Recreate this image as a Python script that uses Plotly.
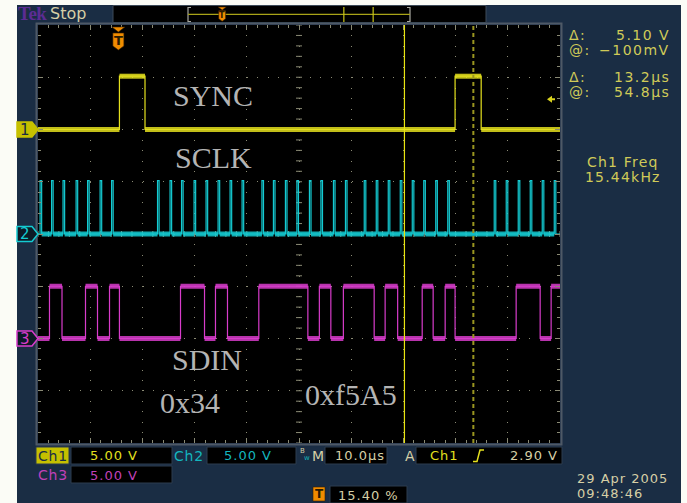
import plotly.graph_objects as go

# ---------------------------------------------------------------------------
# Acquisition data (time in microseconds relative to the trigger, levels in V)
# ---------------------------------------------------------------------------
sync_edges = [0.2, 5.1, 64.5, 69.5]                      # Ch1 SYNC, starts low
sync_levels = (0.0, 5.1)

sclk_pulses = [-15.0, -12.8, -10.6, -8.1, -5.9, -3.5, -1.3,
               7.5, 9.9, 12.1, 14.5, 16.8, 19.1, 21.4, 23.7,
               27.5, 29.7, 32.0, 34.2, 36.6, 38.8, 41.2, 43.5,
               47.1, 49.4, 51.7, 54.0, 56.3, 58.5, 60.8, 63.1,
               72.0, 74.3, 76.6, 78.9, 81.2, 83.5]          # Ch2 SCLK pulse starts
sclk_width = 0.3
sclk_levels = (0.0, 5.1)

sdin_edges = [-13.2, -10.8, -6.3, -4.0, -1.7, 0.2, 11.9, 16.5, 18.6, 20.9,
              26.9, 36.3, 38.5, 40.7, 43.1, 49.0, 51.1, 53.5, 58.2, 60.3,
              62.6, 64.5, 76.2, 80.8, 82.9]                  # Ch3 SDIN, starts low
sdin_levels = (0.0, 5.0)

channel_names = ["Ch1", "Ch2", "Ch3"]
volts_per_div = [5.0, 5.0, 5.0]
channel_offsets = [2.0, 0.0, -2.0]          # ground marker position, divisions
channel_colors = ["#e4e01e", "#14cbd2", "#d83ccb"]

time_per_div = 10.0
trigger_pos_pct = 15.40
trigger_level = 2.90
cursor_times = [54.8, 68.0]
cursor_dv = 5.10
cursor_at_v = -0.100
ch1_freq_khz = 15.44
timestamp = ["29 Apr 2005", "09:48:46"]

# annotation text placed on the graticule (time µs, divisions)
signal_labels = ["SYNC", "SCLK", "SDIN", "0x34", "0xf5A5"]
signal_label_pos = [(18.1, 2.66), (18.3, 1.455), (17.0, -2.41), (13.7, -3.23), (44.6, -3.08)]

# ---------------------------------------------------------------------------
# Screen geometry
# ---------------------------------------------------------------------------
W, H = 687, 503
ML, MR, MT, MB = 38, 127, 25, 60
PW, PH = W - ML - MR, H - MT - MB
t_start = -trigger_pos_pct / 100.0 * 10 * time_per_div
t_end = t_start + 10 * time_per_div

NAVY = "#1a2d44"
BEIGE = "#d6cfa6"
READ = "#d0ca58"
GRID = "#8a8a74"
ORANGE = "#f08c00"


def xp(px):
    return (px - ML) / PW


def yp(py):
    return (H - MB - py) / PH


def t2px(t):
    return ML + (t - t_start) / (t_end - t_start) * PW


def div2py(d):
    return MT + (4 - d) / 8 * PH


def poly(pts, close=True):
    s = "M " + " L ".join(f"{xp(x):.5f},{yp(y):.5f}" for x, y in pts)
    return s + (" Z" if close else "")


def step_wave(edges, levels):
    lo, hi = levels
    xs, ys = [t_start], [lo]
    level = lo
    for e in edges:
        nxt = hi if level == lo else lo
        xs += [e, e]
        ys += [level, nxt]
        level = nxt
    xs.append(t_end)
    ys.append(level)
    return xs, ys


def flat_segments(xs, ys, min_len=1.0):
    bx, by = [], []
    for i in range(0, len(xs) - 1, 2):
        x0, x1 = xs[i], xs[i + 1]
        if x1 - x0 >= min_len:
            bx += [x0, x1, None]
            by += [ys[i], ys[i + 1], None]
    return bx, by


sclk_edges = []
for p in sclk_pulses:
    sclk_edges += [p, p + sclk_width]

waves = [step_wave(sync_edges, sync_levels),
         step_wave(sclk_edges, sclk_levels),
         step_wave(sdin_edges, sdin_levels)]

fig = go.Figure()
for (xs, ys), off, vpd, col in zip(waves, channel_offsets, volts_per_div, channel_colors):
    yd = [v / vpd + off for v in ys]
    bx, by = flat_segments(xs, yd)
    fig.add_trace(go.Scatter(x=bx, y=by, mode="lines", line=dict(color=col, width=5),
                             opacity=0.85, hoverinfo="skip", connectgaps=False))
    fig.add_trace(go.Scatter(x=xs, y=yd, mode="lines", line=dict(color=col, width=1.2),
                             hoverinfo="skip"))

shapes = []
annotations = []

# white frame strips around the instrument screen
for x0, x1, y0, y1 in [(0, 17, 0, H), (0, W, 0, 5), (681, W, 0, H)]:
    shapes.append(dict(type="rect", xref="paper", yref="paper", x0=xp(x0), x1=xp(x1),
                       y0=yp(y1), y1=yp(y0), fillcolor="#fbfcf6", line=dict(width=0), layer="below"))

# graticule border
shapes.append(dict(type="rect", xref="paper", yref="paper", x0=xp(36.5), x1=xp(561.5),
                   y0=yp(444.5), y1=yp(23.5), line=dict(color="#4e5966", width=2), layer="below"))

# center-line minor ticks
t_center = (t_start + t_end) / 2
for k in range(41):
    yv = -4 + 0.2 * k
    shapes.append(dict(type="line", xref="x", yref="y", xsizemode="pixel", xanchor=t_center,
                       x0=-3, x1=3, y0=yv, y1=yv, line=dict(color=GRID, width=1), layer="below"))
for k in range(51):
    tv = t_start + k * time_per_div / 5
    shapes.append(dict(type="line", xref="x", yref="y", ysizemode="pixel", yanchor=0,
                       y0=-3, y1=3, x0=tv, x1=tv, line=dict(color=GRID, width=1), layer="below"))

# cursors
shapes.append(dict(type="line", xref="x", yref="paper", x0=cursor_times[0], x1=cursor_times[0],
                   y0=0, y1=1, line=dict(color="#e8e410", width=1.2)))
shapes.append(dict(type="line", xref="x", yref="paper", x0=cursor_times[1], x1=cursor_times[1],
                   y0=0, y1=1, line=dict(color="#9a9620", width=2, dash="4px,3px")))

# channel ground markers
for name, off, col in zip(channel_names, channel_offsets, channel_colors):
    c = div2py(off)
    pts = [(17, c - 7.5), (32, c - 7.5), (38, c), (32, c + 7.5), (17, c + 7.5)]
    selected = name == "Ch1"
    shapes.append(dict(type="path", xref="paper", yref="paper", path=poly(pts),
                       fillcolor="#c6c000" if selected else "#0c1a26",
                       line=dict(color="#c6c000" if selected else col, width=1.5)))
    annotations.append(dict(x=xp(24.5), y=yp(c), xref="paper", yref="paper", text=name[-1],
                            showarrow=False, font=dict(family="DejaVu Sans", size=15,
                                                       color=NAVY if selected else col),
                            xanchor="center", yanchor="middle"))

# trigger level arrow on right edge
ty = div2py(channel_offsets[0] + trigger_level / volts_per_div[0])
shapes.append(dict(type="path", xref="paper", yref="paper",
                   path=poly([(547, ty), (552, ty - 3.5), (552, ty - 1), (555, ty - 1),
                              (555, ty + 1), (552, ty + 1), (552, ty + 3.5)]),
                   fillcolor="#d8d21e", line=dict(width=0)))


def trig_marker(cx, top, s):
    tri = [(cx - 6.5 * s, top), (cx + 6.5 * s, top), (cx, top + 5 * s)]
    shield = [(cx - 5.5 * s, top + 6 * s), (cx + 5.5 * s, top + 6 * s), (cx + 5.5 * s, top + 19 * s),
              (cx, top + 23 * s), (cx - 5.5 * s, top + 19 * s)]
    for pts in (tri, shield):
        shapes.append(dict(type="path", xref="paper", yref="paper", path=poly(pts),
                           fillcolor=ORANGE, line=dict(color="#3a2000", width=0.6)))
    annotations.append(dict(x=xp(cx), y=yp(top + 13.5 * s), xref="paper", yref="paper", text="<b>T</b>",
                            showarrow=False, font=dict(family="DejaVu Sans", size=13 * s, color="#2a1a00"),
                            xanchor="center", yanchor="middle"))


trig_px = t2px(0.0)
trig_marker(trig_px, 27, 1.0)

# record view at top
shapes.append(dict(type="rect", xref="paper", yref="paper", x0=xp(113), x1=xp(486),
                   y0=yp(22.5), y1=yp(5.5), fillcolor="black", line=dict(color="#3c4a58", width=1)))
rb0, rb1 = 188, 410
shapes.append(dict(type="path", xref="paper", yref="paper",
                   path=poly([(191, 7.5), (188, 7.5), (188, 21.5), (191, 21.5)], close=False),
                   line=dict(color="#a8a8a0", width=1.2)))
shapes.append(dict(type="path", xref="paper", yref="paper",
                   path=poly([(407, 7.5), (410, 7.5), (410, 21.5), (407, 21.5)], close=False),
                   line=dict(color="#a8a8a0", width=1.2)))
shapes.append(dict(type="line", xref="paper", yref="paper", x0=xp(rb0), x1=xp(rb1),
                   y0=yp(14.3), y1=yp(14.3), line=dict(color="#a8a418", width=1.2)))
for ct in cursor_times:
    rx = rb0 + (ct - t_start) / (t_end - t_start) * (rb1 - rb0)
    shapes.append(dict(type="line", xref="paper", yref="paper", x0=xp(rx), x1=xp(rx),
                       y0=yp(7), y1=yp(22), line=dict(color="#c8c418", width=1.2)))
trig_marker(rb0 + (0 - t_start) / (t_end - t_start) * (rb1 - rb0), 7, 0.62)


def text(px, py, s, color, size=13, anchor="left", family="DejaVu Sans", ls=None):
    if ls:
        s = f'<span style="letter-spacing:{ls}px">{s}</span>'
    annotations.append(dict(x=xp(px), y=yp(py), xref="paper", yref="paper", text=s,
                            showarrow=False, xanchor=anchor, yanchor="middle",
                            font=dict(family=family, size=size, color=color)))


def box(x0, x1, y0, y1, fill="black"):
    shapes.append(dict(type="rect", xref="paper", yref="paper", x0=xp(x0), x1=xp(x1),
                       y0=yp(y1), y1=yp(y0), fillcolor=fill, line=dict(color="#2c3c4e", width=1),
                       layer="below"))


# header
text(16, 14, "<b>Tek</b>", "#5b2c93", 19, family="Liberation Serif", ls=-0.5)
text(48, 14, "Stop", BEIGE, 16)

# signal names
for lab, (tx, dy) in zip(signal_labels, signal_label_pos):
    annotations.append(dict(x=tx, y=dy, xref="x", yref="y", text=lab, showarrow=False,
                            xanchor="center", yanchor="middle",
                            font=dict(family="Liberation Serif", size=30, color="#b4b4b4")))

# cursor readouts
text(567, 35, "Δ:", READ, 14, ls=1.5)
text(567, 50, "@:", READ, 14, ls=1.5)
text(672, 35, f"{cursor_dv:.2f} V", READ, 14, "right", ls=1.5)
text(672, 50, f"−{abs(cursor_at_v) * 1000:.0f}mV", READ, 14, "right", ls=1.5)
text(567, 77, "Δ:", READ, 14, ls=1.5)
text(567, 92, "@:", READ, 14, ls=1.5)
text(672, 77, f"{cursor_times[1] - cursor_times[0]:.1f}µs", READ, 14, "right", ls=1.5)
text(672, 92, f"{cursor_times[0]:.1f}µs", READ, 14, "right", ls=1.5)
text(623, 162, "Ch1 Freq", READ, 14, "center", ls=1.2)
text(623, 177, f"{ch1_freq_khz:.2f}kHz", READ, 14, "center", ls=1.2)

# bottom status
box(36, 69, 447, 464, fill="#c6c000")
text(52.5, 455.5, "Ch1", NAVY, 14, "center", ls=0.8)
box(71, 172, 447, 464)
text(88, 455.5, f"{volts_per_div[0]:.2f} V", channel_colors[0], 13, ls=1)
text(189, 455.5, "Ch2", "#14b6be", 14, "center", ls=0.8)
box(207, 296, 447, 464)
text(222, 455.5, f"{volts_per_div[1]:.2f} V", "#14b6be", 13, ls=1)
text(298, 451, "B", BEIGE, 7)
text(302, 458, "w", "#14b6be", 7)
text(310, 455.5, "M", BEIGE, 14)
box(325, 387, 447, 464)
text(333, 455.5, f"{time_per_div:.1f}µs", BEIGE, 13, ls=1)
text(403, 455.5, "A", BEIGE, 14)
box(416, 562, 447, 464)
text(428, 455.5, "Ch1", channel_colors[0], 13, ls=1)
shapes.append(dict(type="path", xref="paper", yref="paper",
                   path=poly([(473, 461.5), (477, 461.5), (480, 450), (484, 450)], close=False),
                   line=dict(color=channel_colors[0], width=1.5)))
text(560, 455.5, f"{trigger_level:.2f} V", BEIGE, 13, "right", ls=1)

text(52.5, 475, "Ch3", "#c040b8", 14, "center", ls=0.8)
box(71, 172, 466, 483)
text(88, 475, f"{volts_per_div[2]:.2f} V", "#c040b8", 13, ls=1)

shapes.append(dict(type="rect", xref="paper", yref="paper", x0=xp(313), x1=xp(325),
                   y0=yp(501), y1=yp(487), fillcolor=ORANGE, line=dict(color="#3a2000", width=0.6)))
text(319, 494, "<b>T</b>", "#2a1a00", 12, "center")
box(330, 407, 486, 503)
text(336, 495, f"{trigger_pos_pct:.2f} %", BEIGE, 13, ls=1)

text(575, 478, timestamp[0], BEIGE, 13, ls=1)
text(575, 493, timestamp[1], BEIGE, 13, ls=1)

fig.update_layout(
    width=W, height=H, margin=dict(l=ML, r=MR, t=MT, b=MB, pad=0),
    paper_bgcolor=NAVY, plot_bgcolor="black", showlegend=False,
    shapes=shapes, annotations=annotations,
    xaxis=dict(range=[t_start, t_end], tick0=t_start, dtick=time_per_div, showgrid=True,
               gridcolor=GRID, gridwidth=1, griddash="1px,9.44px", zeroline=False,
               showticklabels=False, ticks="inside", ticklen=5, tickcolor=GRID,
               mirror="ticks", showline=False, fixedrange=True,
               minor=dict(ticks="inside", tick0=t_start, dtick=time_per_div / 5, ticklen=3,
                          tickcolor=GRID, showgrid=False)),
    yaxis=dict(range=[-4, 4], tick0=0, dtick=1, showgrid=True, gridcolor=GRID, gridwidth=1,
               griddash="1px,9.45px", zeroline=False, showticklabels=False, ticks="inside",
               ticklen=5, tickcolor=GRID, mirror="ticks", showline=False, fixedrange=True,
               minor=dict(ticks="inside", tick0=0, dtick=0.2, ticklen=3, tickcolor=GRID,
                          showgrid=False)),
)

fig.write_html("out.html")
